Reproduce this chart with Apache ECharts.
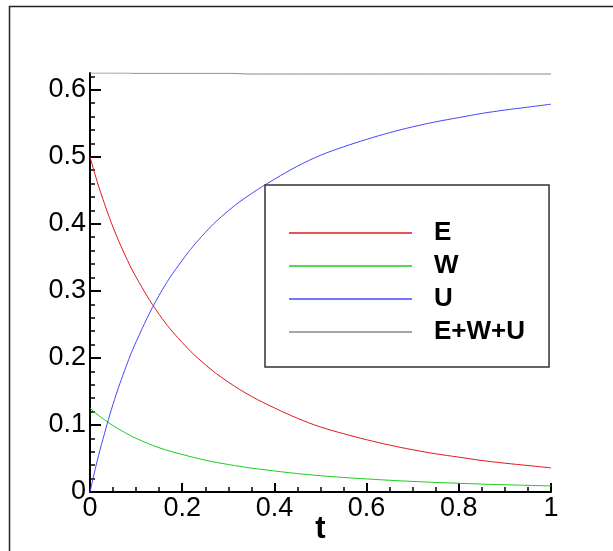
<!DOCTYPE html>
<html>
<head>
<meta charset="utf-8">
<script src="https://cdn.jsdelivr.net/npm/echarts@6/dist/echarts.min.js"></script>
<style>
  html, body { margin: 0; padding: 0; background: #fff; }
  #chart { width: 613px; height: 551px; }
</style>
</head>
<body>
<div id="chart"></div>
<script>
// values
const tVals = [0, 0.0125, 0.025, 0.05, 0.075, 0.1, 0.15, 0.2, 0.25, 0.3, 0.35, 0.4, 0.45, 0.5, 0.55,
  0.6, 0.65, 0.7, 0.75, 0.8, 0.85, 0.9, 0.95, 1.0];
const eVals = [0.5, 0.470, 0.443, 0.395, 0.355, 0.3205, 0.265, 0.223, 0.190, 0.164, 0.1428, 0.1255, 0.110, 0.097, 0.087,
  0.078, 0.070, 0.063, 0.057, 0.052, 0.047, 0.043, 0.0395, 0.036];
const wVals = [0.125, 0.1175, 0.111, 0.099, 0.089, 0.080, 0.066, 0.056, 0.0475, 0.041, 0.0357, 0.0314, 0.0275, 0.0243, 0.0217,
  0.0195, 0.0175, 0.0158, 0.0143, 0.013, 0.0118, 0.0108, 0.0099, 0.009];
const uVals = [0, 0.0375, 0.071, 0.131, 0.181, 0.224, 0.2935, 0.3455, 0.387, 0.4195, 0.445, 0.4665, 0.486, 0.5022, 0.5148,
  0.526, 0.536, 0.5447, 0.5522, 0.5585, 0.5647, 0.5697, 0.5741, 0.5785];
const sVals = [0.625, 0.625, 0.625, 0.625, 0.625, 0.6245, 0.6245, 0.6245, 0.6245, 0.6245, 0.6235, 0.6235, 0.6235, 0.6235, 0.6235,
  0.6235, 0.6235, 0.6235, 0.6235, 0.6235, 0.6235, 0.6235, 0.6235, 0.6235];

const seriesNames = ['E', 'W', 'U', 'E+W+U'];
const seriesColors = ['#e01a1a', '#1ccc1c', '#4646ff', '#888888'];

const yMajor = [0, 0.1, 0.2, 0.3, 0.4, 0.5, 0.6];
const yMinor = [0.02, 0.04, 0.06, 0.08, 0.12, 0.14, 0.16, 0.18, 0.22, 0.24, 0.26, 0.28,
  0.32, 0.34, 0.36, 0.38, 0.42, 0.44, 0.46, 0.48, 0.52, 0.54, 0.56, 0.58, 0.62];

const font = 'Liberation Sans';
const chart = echarts.init(document.getElementById('chart'));

const pairs = vals => tVals.map((t, i) => [t, vals[i]]);
const allVals = [eVals, wVals, uVals, sVals];

chart.setOption({
  animation: false,
  backgroundColor: '#fff',
  graphic: [{
    type: 'rect',
    shape: { x: 9.5, y: 6.5, width: 700, height: 700 },
    style: { fill: 'none', stroke: '#222', lineWidth: 1.5 },
    silent: true
  }],
  grid: { left: 90, right: 62, top: 73, bottom: 59, containLabel: false, outerBoundsMode: 'none' },
  legend: {
    orient: 'vertical',
    left: 265,
    top: 185,
    icon: 'rect',
    itemWidth: 123,
    itemHeight: 1.5,
    itemGap: 0,
    padding: [31.5, 24, 18.5, 24],
    borderColor: '#333',
    borderWidth: 1.5,
    selectedMode: false,
    textStyle: { fontFamily: font, fontSize: 26, fontWeight: 'bold', color: '#000', lineHeight: 33, padding: [0, 0, 0, 17] },
    data: seriesNames
  },
  xAxis: {
    type: 'value', min: 0, max: 1, interval: 0.2,
    name: 't', nameLocation: 'middle', nameGap: 37, nameMoveOverlap: false,
    nameTextStyle: { fontFamily: font, fontSize: 31, fontWeight: 'bold', color: '#000', verticalAlign: 'middle' },
    axisLine: { onZero: false, lineStyle: { color: '#000', width: 2 } },
    axisTick: { inside: true, length: 9, lineStyle: { color: '#000', width: 2 } },
    minorTick: { show: true, splitNumber: 4, length: 5, lineStyle: { color: '#000', width: 1.5 } },
    axisLabel: { fontFamily: font, fontSize: 27, color: '#000', margin: 3 },
    splitLine: { show: false }
  },
  yAxis: [{
    type: 'value', min: 0, max: 0.625,
    axisLine: { show: true, onZero: false, lineStyle: { color: '#000', width: 2 } },
    axisTick: { show: true, inside: true, length: 11, customValues: yMajor, lineStyle: { color: '#000', width: 2 } },
    axisLabel: { customValues: yMajor, fontFamily: font, fontSize: 27, color: '#000', margin: 4,
      formatter: v => (v === 0 ? '0' : v.toFixed(1)) },
    splitLine: { show: false }
  }, {
    type: 'value', min: 0, max: 0.625, position: 'left',
    axisLine: { show: false },
    axisTick: { show: true, inside: true, length: 5, customValues: yMinor, lineStyle: { color: '#000', width: 1.5 } },
    axisLabel: { show: false },
    splitLine: { show: false }
  }],
  series: seriesNames.map((name, i) => ({
    name,
    type: 'line',
    data: pairs(allVals[i]),
    symbol: 'none',
    smooth: 0.4,
    lineStyle: { color: seriesColors[i], width: 1 },
    itemStyle: { color: seriesColors[i] }
  }))
});
</script>
</body>
</html>
